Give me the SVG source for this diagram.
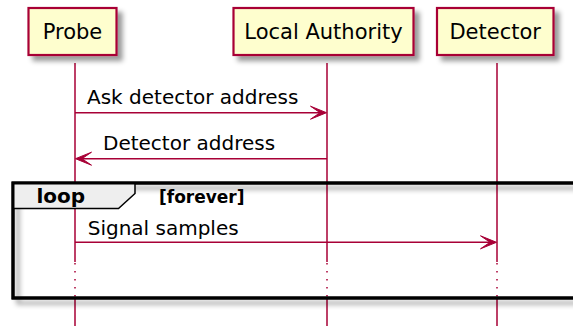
<svg xmlns="http://www.w3.org/2000/svg" width="573" height="329" viewBox="0 0 573 329">
<style>
.box{fill:#FEFECE;stroke:#A80036;stroke-width:2.2}
.life{stroke:#A80036;stroke-width:1.5;fill:none}
.dots{stroke:#A80036;stroke-width:1.5;fill:none;stroke-dasharray:1.5,6.5}
.msg{stroke:#A80036;stroke-width:1.5;fill:none}
.head{fill:#A80036;stroke:#A80036;stroke-width:1}
.ptxt{font-family:"DejaVu Sans",sans-serif;font-size:21px;fill:#000;text-anchor:middle}
.mtxt{font-family:"DejaVu Sans",sans-serif;font-size:20px;fill:#000}
.ltxt{font-family:"DejaVu Sans",sans-serif;font-size:20px;font-weight:bold;fill:#000}
.ctxt{font-family:"DejaVu Sans",sans-serif;font-size:17px;font-weight:bold;fill:#000}
</style>
<defs>
<filter id="sh" x="-20%" y="-20%" width="150%" height="160%">
<feGaussianBlur in="SourceAlpha" stdDeviation="2.5"/>
<feOffset dx="5" dy="5" result="b"/>
<feColorMatrix in="b" type="matrix" values="0 0 0 0 0  0 0 0 0 0  0 0 0 0 0  0 0 0 0.4 0"/>
<feMerge><feMergeNode/><feMergeNode in="SourceGraphic"/></feMerge>
</filter>
</defs>

<g id="lifelines">
<path class="life" d="M75 63V262M75 298V326M327 63V262M327 298V326M497 63V262M497 298V326"/>
<path class="dots" d="M75 263V298M327 263V298M497 263V298"/>
</g>

<g id="loop">
<rect x="13" y="183" width="620" height="115" fill="none" stroke="#000" stroke-width="3" filter="url(#sh)"/>
<path d="M13 183H135V193.5L118.5 208.5H13Z" fill="#EEEEEE" stroke="#000" stroke-width="1.5"/>
<rect x="13" y="183" width="620" height="115" fill="none" stroke="#000" stroke-width="3"/>
<text class="ltxt" x="36.5" y="203">loop</text>
<text class="ctxt" x="159" y="203">[forever]</text>
</g>

<g id="Probe">
<rect class="box" x="28.5" y="8" width="88" height="47" filter="url(#sh)"/>
<text class="ptxt" x="72.5" y="39">Probe</text>
</g>
<g id="LocalAuthority">
<rect class="box" x="233.5" y="8" width="180" height="47" filter="url(#sh)"/>
<text class="ptxt" x="323.5" y="39">Local Authority</text>
</g>
<g id="Detector">
<rect class="box" x="437" y="8" width="116.5" height="47" filter="url(#sh)"/>
<text class="ptxt" x="495.2" y="39">Detector</text>
</g>

<g id="connectors">
<path class="msg" d="M75 112.7H325"/>
<polygon class="head" points="326.5,112.7 310.5,106.2 320,112.7 310.5,119.2"/>
<text class="mtxt" x="87" y="104.3">Ask detector address</text>

<path class="msg" d="M77 158.7H327"/>
<polygon class="head" points="75.5,158.7 91.5,152.2 82,158.7 91.5,165.2"/>
<text class="mtxt" x="103" y="150">Detector address</text>

<path class="msg" d="M75 242.3H495"/>
<polygon class="head" points="496.5,242.3 480.5,235.8 490,242.3 480.5,248.8"/>
<text class="mtxt" x="87.7" y="235">Signal samples</text>
</g>
</svg>
